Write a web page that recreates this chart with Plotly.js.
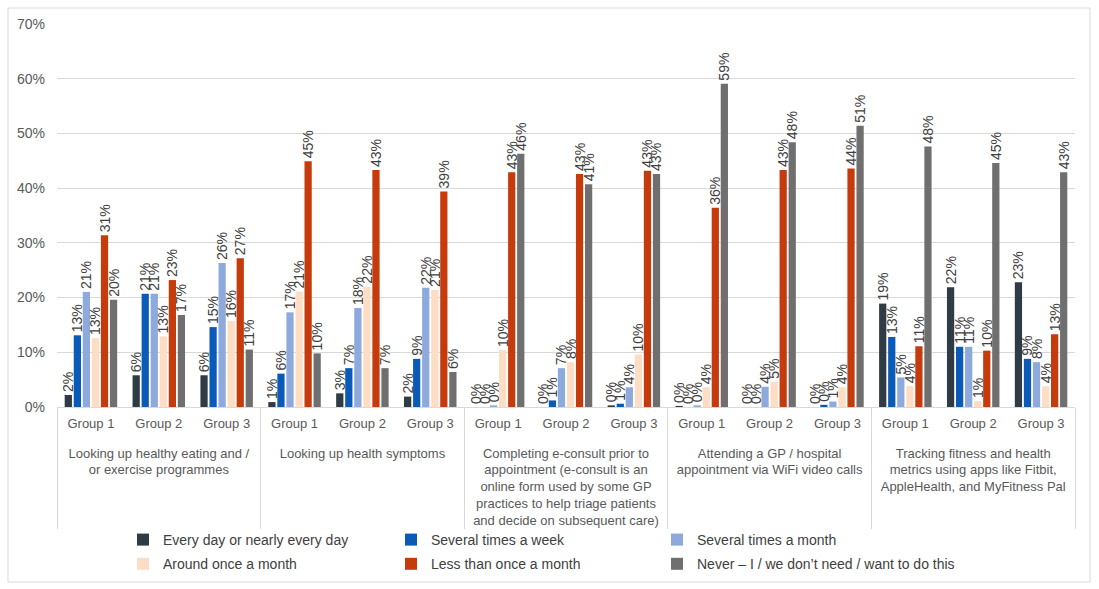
<!DOCTYPE html>
<html>
<head>
<meta charset="utf-8">
<script src="https://cdn.plot.ly/plotly-3.0.1.min.js"></script>
<style>
html,body{margin:0;padding:0;background:#fff;}
#chart{width:1099px;height:589px;}
</style>
</head>
<body>
<div id="chart"></div>
<script>
// Activities (top-level categories)
const activities = [
  "Looking up healthy eating and /<br>or exercise programmes",
  "Looking up health symptoms",
  "Completing e-consult prior to<br>appointment (e-consult is an<br>online form used by some GP<br>practices to help triage patients<br>and decide on subsequent care)",
  "Attending a GP / hospital<br>appointment via WiFi video calls",
  "Tracking fitness and health<br>metrics using apps like Fitbit,<br>AppleHealth, and MyFitness Pal"
];
const groups = ["Group 1", "Group 2", "Group 3"];

// Series values (%), order: activity 1 (G1,G2,G3), activity 2 (G1,G2,G3), ...
const everyDay       = [2.2, 5.8, 5.8,   0.9, 2.5, 1.9,   0.0, 0.0, 0.3,   0.2, 0.0, 0.0,   18.9, 21.9, 22.8];
const severalWeek    = [13.1, 20.7, 14.6, 6.1, 7.1, 8.8,  0.0, 1.2, 0.6,   0.0, 0.0, 0.4,   12.8, 11.0, 8.8];
const severalMonth   = [21.0, 20.7, 26.3, 17.3, 18.1, 21.8, 0.3, 7.1, 3.6, 0.3, 3.7, 1.0,   5.4, 11.0, 8.2];
const onceMonth      = [12.6, 12.9, 15.7, 21.1, 22.0, 21.4, 10.4, 8.2, 9.6, 3.6, 4.6, 3.6,  3.8, 1.1, 3.8];
const lessThanMonth  = [31.4, 23.2, 27.2, 44.9, 43.3, 39.4, 42.9, 42.6, 43.2, 36.4, 43.3, 43.6, 11.1, 10.3, 13.3];
const never          = [19.6, 16.8, 10.5, 9.8, 7.1, 6.4,  46.3, 40.7, 42.6, 59.1, 48.4, 51.4, 47.6, 44.6, 42.9];

const seriesNames = [
  "Every day or nearly every day",
  "Several times a week",
  "Several times a month",
  "Around once a month",
  "Less than once a month",
  "Never \u2013 I / we don\u2019t need / want to do this"
];
const seriesValues = [everyDay, severalWeek, severalMonth, onceMonth, lessThanMonth, never];
const seriesColors = ["#2F3B45", "#0A5AB8", "#8EA9DB", "#FDDDC3", "#C63B0B", "#6F6F6F"];
const legendIds = ["legend", "legend2", "legend3", "legend", "legend2", "legend3"];

// leading line break places the activity labels a row below the group labels
const xCat = [], xGrp = [];
activities.forEach(a => groups.forEach(g => { xCat.push("<br>" + a); xGrp.push(g); }));

const FONT = "Liberation Sans, Arial, sans-serif";

const traces = seriesNames.map((name, i) => ({
  type: "bar",
  name: name,
  x: [xCat, xGrp],
  y: seriesValues[i],
  marker: {color: seriesColors[i], line: {width: 0}},
  text: seriesValues[i].map(v => Math.round(v) + "%"),
  texttemplate: "%{text}",
  textposition: "outside",
  textangle: -90,
  constraintext: "none",
  cliponaxis: false,
  textfont: {family: FONT, size: 14, color: "#404040"},
  legend: legendIds[i],
  legendgroup: "g" + i,
  hoverinfo: "skip"
}));

// paper coordinate helpers for plot area: x 57..1075, y 24..407
const L = 57, R = 1075, T = 24, B = 407;
const px = v => (v - L) / (R - L);
const py = v => (B - v) / (B - T);

const legendCommon = {
  orientation: "v",
  xanchor: "left",
  yanchor: "top",
  font: {family: FONT, size: 14, color: "#404040"},
  bgcolor: "rgba(0,0,0,0)",
  tracegroupgap: 3,
  itemwidth: 30
};

const layout = {
  width: 1099,
  height: 589,
  margin: {l: L, r: 1099 - R, t: T, b: 589 - B, autoexpand: false},
  paper_bgcolor: "#ffffff",
  plot_bgcolor: "#ffffff",
  font: {family: FONT, size: 13, color: "#595959"},
  barmode: "group",
  bargap: 0.2,
  bargroupgap: 0.2,
  showlegend: true,
  xaxis: {
    type: "multicategory",
    automargin: false,
    showline: true,
    linecolor: "#d9d9d9",
    linewidth: 1,
    showgrid: false,
    ticks: "",
    showdividers: true,
    dividercolor: "#d9d9d9",
    dividerwidth: 1,
    ticklabelstandoff: 4,
    tickfont: {family: FONT, size: 13, color: "#595959"}
  },
  yaxis: {
    automargin: false,
    range: [0, 70],
    dtick: 10,
    ticksuffix: "%",
    showgrid: true,
    gridcolor: "#d9d9d9",
    gridwidth: 1,
    zeroline: false,
    showline: false,
    ticks: "",
    ticklabelstandoff: 11,
    tickfont: {family: FONT, size: 14, color: "#595959"}
  },
  legend: Object.assign({}, legendCommon, {x: px(123), y: py(524)}),
  legend2: Object.assign({}, legendCommon, {x: px(391), y: py(524)}),
  legend3: Object.assign({}, legendCommon, {x: px(657), y: py(524)}),
  shapes: [{
    type: "rect", xref: "paper", yref: "paper",
    x0: px(8), x1: px(1090), y0: py(582), y1: py(8),
    line: {color: "#d9d9d9", width: 1}, fillcolor: "rgba(0,0,0,0)", layer: "below"
  }]
};

Plotly.newPlot("chart", traces, layout, {displayModeBar: false, staticPlot: true});
</script>
</body>
</html>
